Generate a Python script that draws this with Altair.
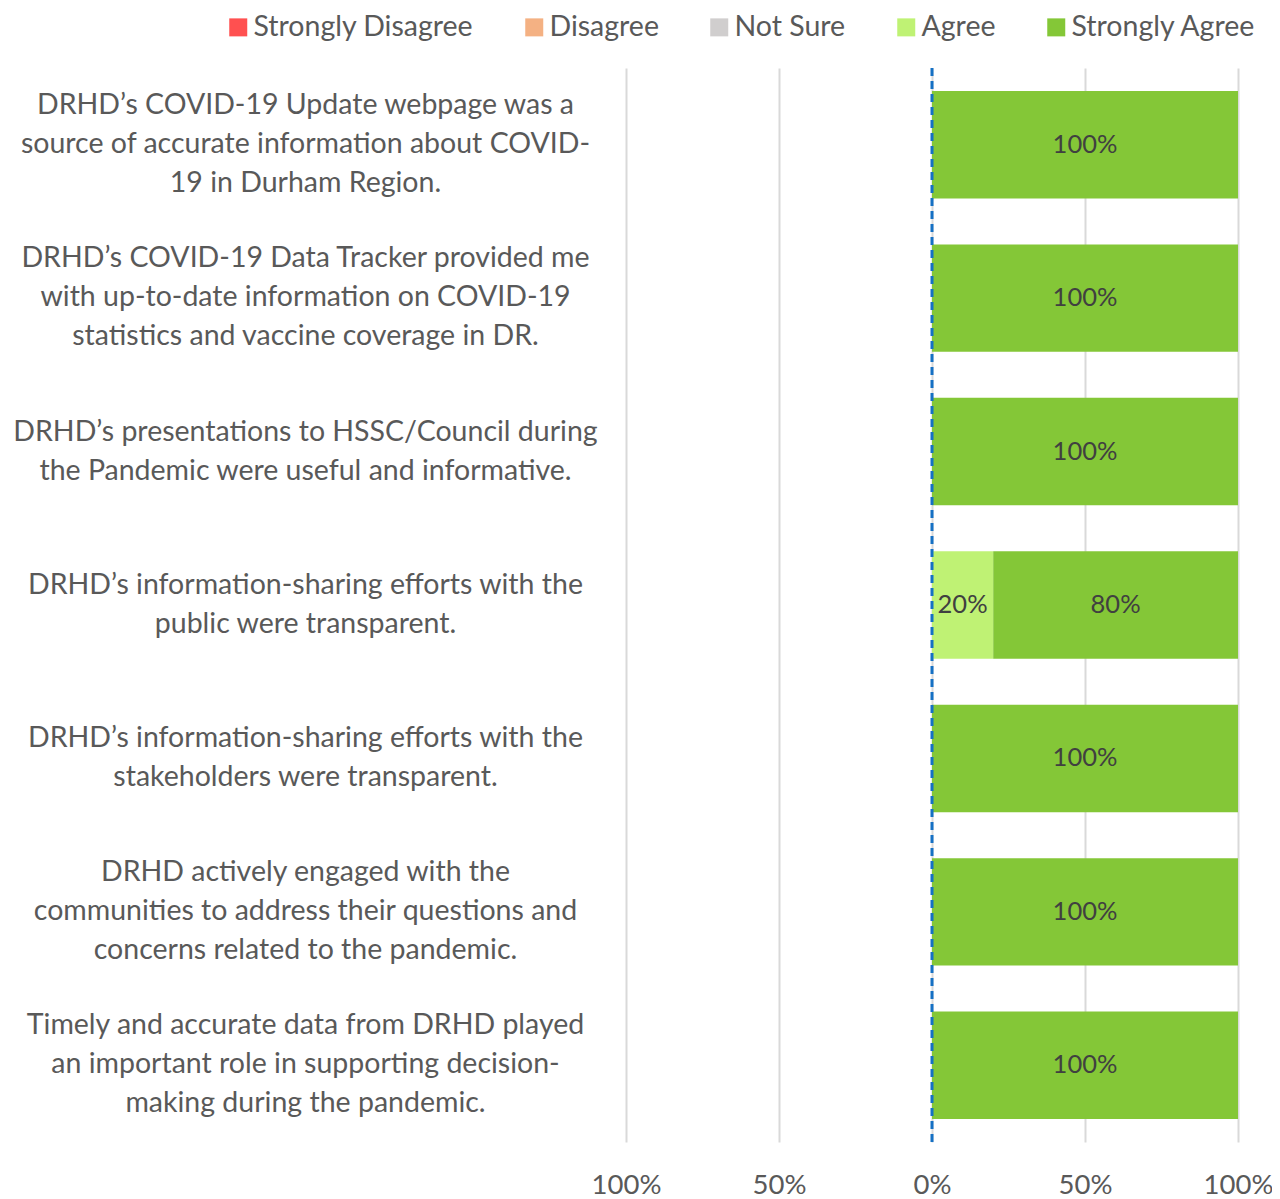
import altair as alt
import pandas as pd

questions = [
    "DRHD’s COVID-19 Update webpage was a|source of accurate information about COVID-|19 in Durham Region.",
    "DRHD’s COVID-19 Data Tracker provided me|with up-to-date information on COVID-19|statistics and vaccine coverage in DR.",
    "DRHD’s presentations to HSSC/Council during|the Pandemic were useful and informative.",
    "DRHD’s information-sharing efforts with the|public were transparent.",
    "DRHD’s information-sharing efforts with the|stakeholders were transparent.",
    "DRHD actively engaged with the|communities to address their questions and|concerns related to the pandemic.",
    "Timely and accurate data from DRHD played|an important role in supporting decision-|making during the pandemic.",
]
categories = ["Strongly Disagree", "Disagree", "Not Sure", "Agree", "Strongly Agree"]
colors = ["#FF5050", "#F4B183", "#D0CECE", "#BFF274", "#84C737"]

strongly_disagree = [0, 0, 0, 0, 0, 0, 0]
disagree = [0, 0, 0, 0, 0, 0, 0]
not_sure = [0, 0, 0, 0, 0, 0, 0]
agree = [0, 0, 0, 0.2, 0, 0, 0]
strongly_agree = [1.0, 1.0, 1.0, 0.8, 1.0, 1.0, 1.0]

rows = []
for i, q in enumerate(questions):
    d = disagree[i]
    sd = strongly_disagree[i]
    rows.append(dict(q=q, cat="Disagree", v=d, x0=-d, x1=0))
    rows.append(dict(q=q, cat="Strongly Disagree", v=sd, x0=-(d + sd), x1=-d))
    start = 0.0
    for cat, arr in [("Not Sure", not_sure), ("Agree", agree), ("Strongly Agree", strongly_agree)]:
        v = arr[i]
        rows.append(dict(q=q, cat=cat, v=v, x0=start, x1=start + v))
        start += v
df = pd.DataFrame(rows)
df = df[df.v > 0]
df["mid"] = (df.x0 + df.x1) / 2
df["lbl"] = (df.v * 100).round().astype(int).astype(str) + "%"

FONT = "Lato"
GREY = "#595959"
FS = 28.5

xscale = alt.Scale(domain=[-1, 1], nice=False, zero=False)
yenc = alt.Y(
    "q:N",
    sort=questions,
    scale=alt.Scale(paddingInner=0.3, paddingOuter=0.15),
    axis=alt.Axis(
        title=None,
        domain=False,
        ticks=False,
        labelExpr="split(datum.label, '|')",
        labelAlign="center",
        labelBaseline="middle",
        labelOffset={
            "condition": {"test": "length(split(datum.label, '|')) >= 3", "value": -40},
            "value": -20,
        },
        labelPadding=321,
        labelLimit=1000,
        labelFontSize=FS,
        labelLineHeight=39,
        labelColor=GREY,
        labelFont=FONT,
    ),
)

base = alt.Chart(df)

bars = base.mark_bar().encode(
    x=alt.X(
        "x0:Q",
        scale=xscale,
        axis=alt.Axis(
            title=None,
            values=[-1, -0.5, 0, 0.5, 1],
            labelExpr="format(abs(datum.value), '.0%')",
            domain=False,
            ticks=False,
            grid=True,
            gridColor="#D9D9D9",
            gridWidth=2,
            labelFlush=False,
            labelPadding=29,
            labelFontSize=27.5,
            labelColor=GREY,
            labelFont=FONT,
        ),
    ),
    x2="x1:Q",
    y=yenc,
    color=alt.Color(
        "cat:N",
        scale=alt.Scale(domain=categories, range=colors),
        legend=alt.Legend(
            title=None,
            orient="none",
            legendX=-402,
            legendY=-55,
            direction="horizontal",
            symbolType="square",
            symbolSize=324,
            symbolStrokeWidth=0,
            labelFontSize=FS,
            labelColor=GREY,
            labelFont=FONT,
            labelOffset=1,
            labelLimit=1000,
            columnPadding=46,
        ),
    ),
)

texts = base.mark_text(fontSize=25.5, color="#404040", font=FONT).encode(
    x=alt.X("mid:Q", scale=xscale),
    y=alt.Y("q:N", sort=questions),
    text="lbl:N",
)

zero = pd.DataFrame({"z": [0]})
zline = alt.Chart(zero).mark_rule(color="#1570C4", strokeWidth=3, strokeDash=[8, 5]).encode(
    x=alt.X("z:Q", scale=xscale)
)

chart = (
    alt.layer(bars, texts, zline)
    .properties(
        width=612,
        height=1074,
        autosize=alt.AutoSizeParams(type="none"),
        padding={"left": 618, "top": 60, "right": 34, "bottom": 56},
    )
    .configure_view(stroke=None)
)

chart.save("out.html", embed_options={"renderer": "svg", "actions": False})
